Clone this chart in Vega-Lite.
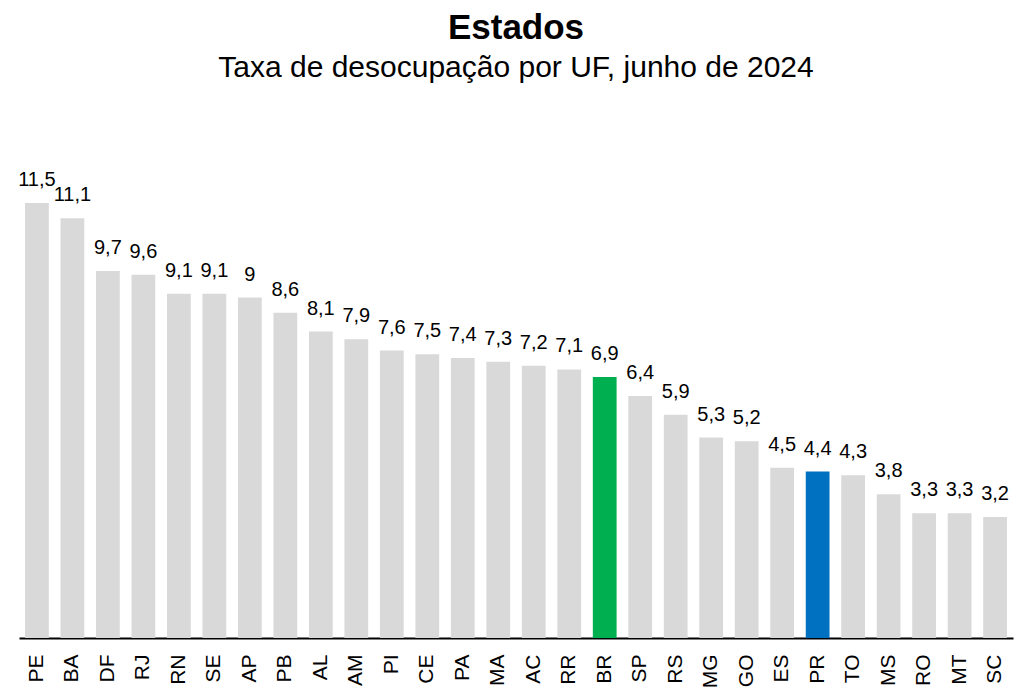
{
  "$schema": "https://vega.github.io/schema/vega-lite/v6.json",
  "autosize": {"type": "none"},
  "padding": {"left": 19, "top": 203, "right": 12, "bottom": 51},
  "width": 994,
  "height": 435,
  "config": {
    "view": {"stroke": null},
    "locale": {"number": {"decimal": ",", "thousands": ".", "grouping": [3], "currency": ["R$", ""]}},
    "font": "Liberation Sans"
  },
  "title": {
    "text": "Estados",
    "subtitle": "Taxa de desocupação por UF, junho de 2024",
    "anchor": "middle",
    "fontSize": 35,
    "fontWeight": "bold",
    "font": "Liberation Sans",
    "color": "#000000",
    "subtitleFontSize": 30,
    "subtitleFont": "Liberation Sans",
    "subtitleColor": "#000000",
    "subtitlePadding": 7,
    "offset": 87
  },
  "data": {
    "values": [
      {"uf": "PE", "taxa": 11.5},
      {"uf": "BA", "taxa": 11.1},
      {"uf": "DF", "taxa": 9.7},
      {"uf": "RJ", "taxa": 9.6},
      {"uf": "RN", "taxa": 9.1},
      {"uf": "SE", "taxa": 9.1},
      {"uf": "AP", "taxa": 9},
      {"uf": "PB", "taxa": 8.6},
      {"uf": "AL", "taxa": 8.1},
      {"uf": "AM", "taxa": 7.9},
      {"uf": "PI", "taxa": 7.6},
      {"uf": "CE", "taxa": 7.5},
      {"uf": "PA", "taxa": 7.4},
      {"uf": "MA", "taxa": 7.3},
      {"uf": "AC", "taxa": 7.2},
      {"uf": "RR", "taxa": 7.1},
      {"uf": "BR", "taxa": 6.9},
      {"uf": "SP", "taxa": 6.4},
      {"uf": "RS", "taxa": 5.9},
      {"uf": "MG", "taxa": 5.3},
      {"uf": "GO", "taxa": 5.2},
      {"uf": "ES", "taxa": 4.5},
      {"uf": "PR", "taxa": 4.4},
      {"uf": "TO", "taxa": 4.3},
      {"uf": "MS", "taxa": 3.8},
      {"uf": "RO", "taxa": 3.3},
      {"uf": "MT", "taxa": 3.3},
      {"uf": "SC", "taxa": 3.2}
    ]
  },
  "encoding": {
    "x": {
      "field": "uf",
      "type": "nominal",
      "sort": null,
      "scale": {"paddingInner": 0.33, "paddingOuter": 0.17},
      "axis": {
        "title": null,
        "labelAngle": -90,
        "labelFontSize": 21,
        "labelColor": "#000000",
        "labelPadding": 16,
        "ticks": false,
        "domainColor": "#000000",
        "domainWidth": 2,
        "grid": false
      }
    },
    "y": {
      "field": "taxa",
      "type": "quantitative",
      "scale": {"domain": [0, 11.5], "nice": false},
      "axis": null
    }
  },
  "layer": [
    {
      "mark": {"type": "bar"},
      "encoding": {
        "color": {
          "condition": [
            {"test": "datum.uf === 'BR'", "value": "#00B050"},
            {"test": "datum.uf === 'PR'", "value": "#0070C0"}
          ],
          "value": "#D9D9D9"
        }
      }
    },
    {
      "mark": {"type": "text", "baseline": "alphabetic", "dy": -17, "fontSize": 20, "color": "#000000"},
      "encoding": {
        "text": {"field": "taxa", "type": "quantitative", "format": "~g"}
      }
    }
  ]
}
